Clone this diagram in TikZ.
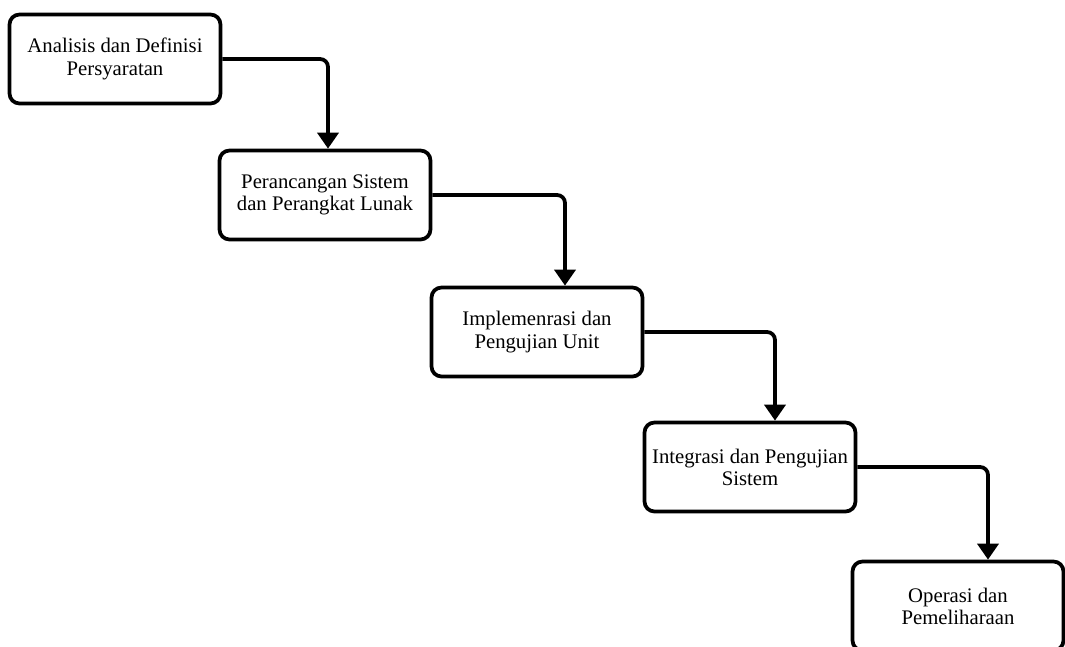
\documentclass[tikz,border=0pt]{standalone}
\usepackage{fontspec}
\setmainfont{Liberation Serif}
\usetikzlibrary{arrows.meta}
\tikzset{
  stage/.style={draw, shape=rectangle, rounded corners=0.2cm, line width=0.075cm,
    minimum width=4.22cm, minimum height=1.78cm, inner sep=0pt, align=center,
    font=\fontsize{11.8}{12.6}\selectfont},
  flow/.style={line width=0.075cm, rounded corners=0.16cm,
    -{Triangle[width=0.42cm,length=0.32cm]}}
}
\begin{document}
\begin{tikzpicture}[x=0.02cm,y=-0.02cm]
   \useasboundingbox (0,0) rectangle (1065,646);
   \path (115,59) node[stage] (A) {Analisis dan Definisi\\Persyaratan};
   \path (325,195) node[stage] (B) {Perancangan Sistem\\dan Perangkat Lunak};
   \path (537,332) node[stage] (C) {Implemenrasi dan\\Pengujian Unit};
   \path (750,467) node[stage] (D) {Integrasi dan Pengujian\\Sistem};
   \path (958,606) node[stage] (E) {Operasi dan\\Pemeliharaan};
   \draw[flow] (A.east) -| ([xshift=0.06cm]B.north);
   \draw[flow] (B.east) -| ([xshift=0.56cm]C.north);
   \draw[flow] (C.east) -| ([xshift=0.5cm]D.north);
   \draw[flow] (D.east) -| ([xshift=0.6cm]E.north);
\end{tikzpicture}
\end{document}
